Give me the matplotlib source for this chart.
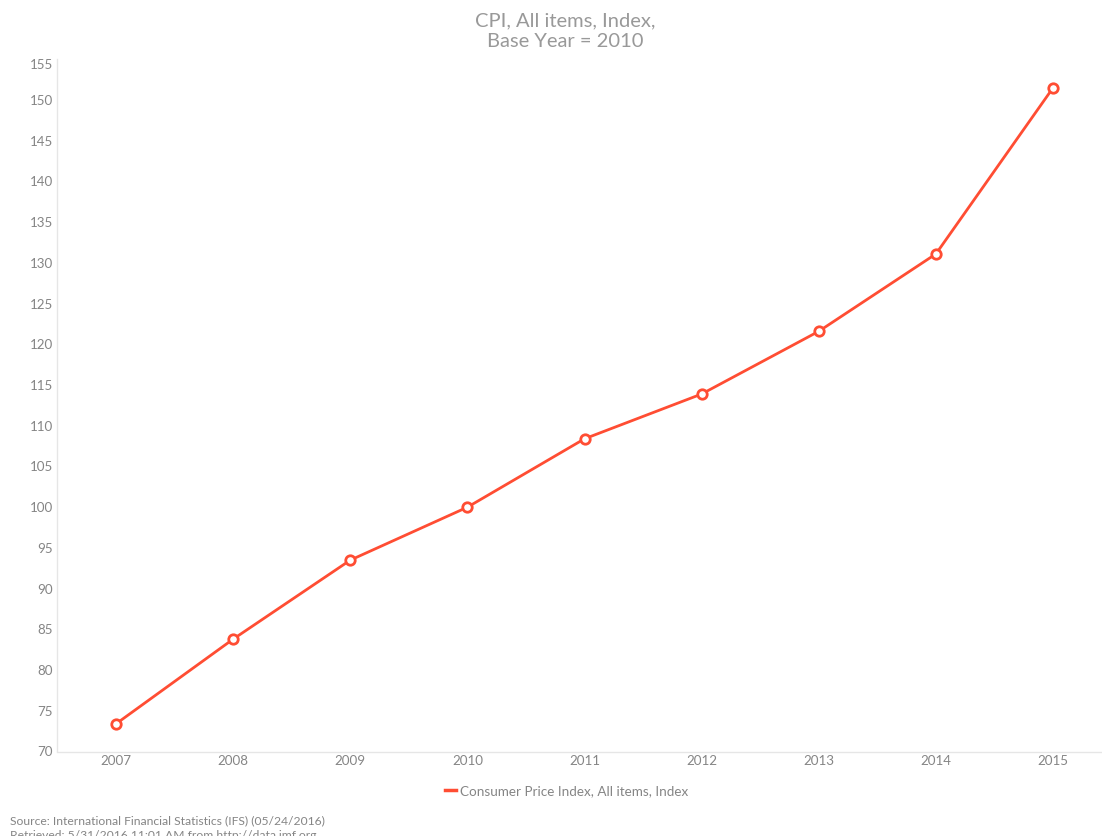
import matplotlib
matplotlib.use("Agg")
import matplotlib.pyplot as plt
from matplotlib.lines import Line2D
from matplotlib.transforms import ScaledTranslation

years = ["2007", "2008", "2009", "2010", "2011", "2012", "2013", "2014", "2015"]
cpi = [73.4, 83.8, 93.5, 100.0, 108.4, 113.9, 121.6, 131.1, 151.5]
yticks = list(range(70, 156, 5))
series_label = "Consumer Price Index, All items, Index"
title = "CPI, All items, Index,\nBase Year = 2010"
source = ("Source: International Financial Statistics (IFS) (05/24/2016)\n"
          "Retrieved: 5/31/2016 11:01 AM from http://data.imf.org")

plt.rcParams['font.family'] = ['Lato', 'DejaVu Sans']
RED = "#ff4d33"
GRAY = "#858585"

fig = plt.figure(figsize=(11.02, 8.36), dpi=100)
ax = fig.add_axes([57/1102, 84.5/836, 1045/1102, 692.2/836])

x = list(range(len(years)))
ax.plot(x, cpi, color=RED, lw=2.0, marker='o', markersize=6.8,
        markerfacecolor='white', markeredgecolor=RED, markeredgewidth=2.0,
        clip_on=False, zorder=3)

ax.set_xlim(-0.504, 8.418)
ax.set_ylim(70, 155)
ax.set_xticks(x)
ax.set_xticklabels(years)
ax.set_yticks(yticks)
ax.set_yticklabels([str(v) for v in yticks])
ax.tick_params(axis='both', length=0, labelsize=9.6, colors=GRAY)
ax.tick_params(axis='x', pad=2.5)
ax.tick_params(axis='y', pad=2.8)
for s in ['top', 'right']:
    ax.spines[s].set_visible(False)
for s in ['left', 'bottom']:
    ax.spines[s].set_color("#e6e6e6")
    ax.spines[s].set_linewidth(1.0)

# top label is nudged down inside the plot, as in the reference
fig.canvas.draw()
top_lab = ax.get_yticklabels()[-1]
top_lab.set_transform(top_lab.get_transform() + ScaledTranslation(0, -5/100, fig.dpi_scale_trans))

fig.text(565/1102, 1 - 31/836, title, ha='center', va='center',
         fontsize=14.5, color="#999999", linespacing=1.3)

handle = Line2D([], [], color=RED, lw=2.5)
fig.legend([handle], [series_label], loc='center', bbox_to_anchor=(567/1102, 1 - 791/836),
           frameon=False, fontsize=9.7, labelcolor=GRAY, handlelength=0.75,
           handletextpad=0.35)

fig.text(10/1102, 1 - 815/836, source, ha='left', va='top', fontsize=8.7,
         color=GRAY, linespacing=1.4)

fig.savefig("out.png", dpi=100, facecolor='white')
